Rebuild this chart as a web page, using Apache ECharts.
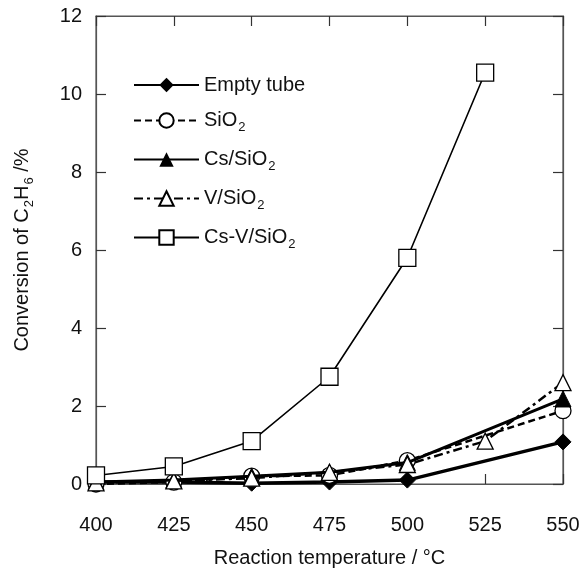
<!DOCTYPE html>
<html>
<head>
<meta charset="utf-8">
<style>
html,body{margin:0;padding:0;background:#fff;}
#main{width:582px;height:570px;}
</style>
</head>
<body>
<div id="main"></div>
<script src="https://cdn.jsdelivr.net/npm/echarts@6/dist/echarts.min.js"></script>
<script type="text/javascript">
// temperatures (°C)
var temps = [400, 425, 450, 475, 500, 525, 550];
// conversion of C2H6 (%) , null = no point
var emptyTube = [0.05, 0.05, 0.02, 0.05, 0.1, null, 1.08];
var sio2 = [0.0, 0.05, 0.2, 0.22, 0.6, null, 1.88];
var csSio2 = [0.05, 0.1, 0.2, 0.3, 0.55, null, 2.18];
var vSio2 = [0.03, 0.08, 0.15, 0.3, 0.5, 1.1, 2.6];
var csvSio2 = [0.22, 0.45, 1.1, 2.75, 5.8, 10.55, null];
var xTicks = [400, 425, 450, 475, 500, 525, 550];
var yTicks = [0, 2, 4, 6, 8, 10, 12];

function pairs(vals) {
    var out = [];
    for (var i = 0; i < temps.length; i++) {
        if (vals[i] !== null) out.push([temps[i], vals[i]]);
    }
    return out;
}

var font = 'Liberation Sans, Arial, Helvetica, sans-serif';
var axisColor = '#555';

var myChart = echarts.init(document.getElementById('main'));

var baseX = {
    type: 'value', min: 400, max: 550, interval: 25,
    axisLine: { show: true, onZero: false, lineStyle: { color: axisColor, width: 1.2 } },
    axisTick: { show: true, inside: true, length: 10, lineStyle: { color: '#333', width: 1.2 } },
    splitLine: { show: false }
};
var baseY = {
    type: 'value', min: 0, max: 12, interval: 2,
    axisLine: { show: true, onZero: false, lineStyle: { color: axisColor, width: 1.2 } },
    axisTick: { show: true, inside: true, length: 10, lineStyle: { color: '#333', width: 1.2 } },
    splitLine: { show: false }
};

var option = {
    animation: false,
    backgroundColor: '#fff',
    grid: { left: 96, right: 19, top: 16, bottom: 86, containLabel: false, outerBoundsMode: 'none',
        show: true, borderColor: axisColor, borderWidth: 1.2, backgroundColor: 'transparent' },
    legend: {
        orient: 'vertical',
        left: 128, top: 70,
        itemWidth: 65, itemHeight: 18, itemGap: 15.5,
        data: ['Empty tube', 'SiO2', 'Cs/SiO2', 'V/SiO2', 'Cs-V/SiO2'],
        formatter: function (name) {
            if (name === 'Empty tube') return '{a|Empty tube}';
            var parts = name.split('2');
            return '{a|' + parts[0] + '}{s|2}';
        },
        textStyle: {
            rich: {
                a: { fontSize: 20, fontFamily: font, color: '#111' },
                s: { fontSize: 13, fontFamily: font, color: '#111', padding: [14, 0, 0, 1] }
            }
        }
    },
    xAxis: [
        Object.assign({}, baseX, {
            position: 'bottom',
            name: 'Reaction temperature / °C',
            nameLocation: 'middle', nameGap: 64,
            nameTextStyle: { fontSize: 20, fontFamily: font, color: '#111' },
            axisLabel: { fontSize: 20, fontFamily: font, color: '#111', margin: 31,
                customValues: xTicks }
        }),
        Object.assign({}, baseX, { position: 'top', axisLabel: { show: false } })
    ],
    yAxis: [
        Object.assign({}, baseY, {
            position: 'left',
            name: '{a|Conversion of C}{s|2}{a|H}{s|6}{a| /%}',
            nameLocation: 'middle', nameGap: 60,
            nameTextStyle: {
                rich: {
                    a: { fontSize: 20, fontFamily: font, color: '#111' },
                    s: { fontSize: 13, fontFamily: font, color: '#111', padding: [14, 0, 0, 1] }
                }
            },
            axisLabel: { fontSize: 20, fontFamily: font, color: '#111', margin: 14,
                customValues: yTicks }
        }),
        Object.assign({}, baseY, { position: 'right', axisLabel: { show: false } })
    ],
    series: [
        {
            name: 'Empty tube', type: 'line', data: pairs(emptyTube),
            symbol: 'diamond', symbolSize: 16,
            lineStyle: { color: '#000', width: 3.5 },
            itemStyle: { color: '#000', borderColor: '#000' }, z: 2
        },
        {
            name: 'SiO2', type: 'line', data: pairs(sio2),
            symbol: 'circle', symbolSize: 16,
            lineStyle: { color: '#000', width: 2.5, type: [7, 4] },
            itemStyle: { color: '#fff', borderColor: '#000', borderWidth: 1.3 }, z: 3
        },
        {
            name: 'Cs/SiO2', type: 'line', data: pairs(csSio2),
            symbol: 'triangle', symbolSize: 16,
            lineStyle: { color: '#000', width: 3 },
            itemStyle: { color: '#000', borderColor: '#000' }, z: 4
        },
        {
            name: 'V/SiO2', type: 'line', data: pairs(vSio2),
            symbol: 'triangle', symbolSize: 16,
            lineStyle: { color: '#000', width: 2.5, type: [9, 4, 3, 4] },
            itemStyle: { color: '#fff', borderColor: '#000', borderWidth: 1.3 }, z: 5
        },
        {
            name: 'Cs-V/SiO2', type: 'line', data: pairs(csvSio2),
            symbol: 'rect', symbolSize: 17,
            lineStyle: { color: '#000', width: 1.6 },
            itemStyle: { color: '#fff', borderColor: '#000', borderWidth: 1.3 }, z: 6
        }
    ]
};
myChart.setOption(option);
</script>
</body>
</html>
